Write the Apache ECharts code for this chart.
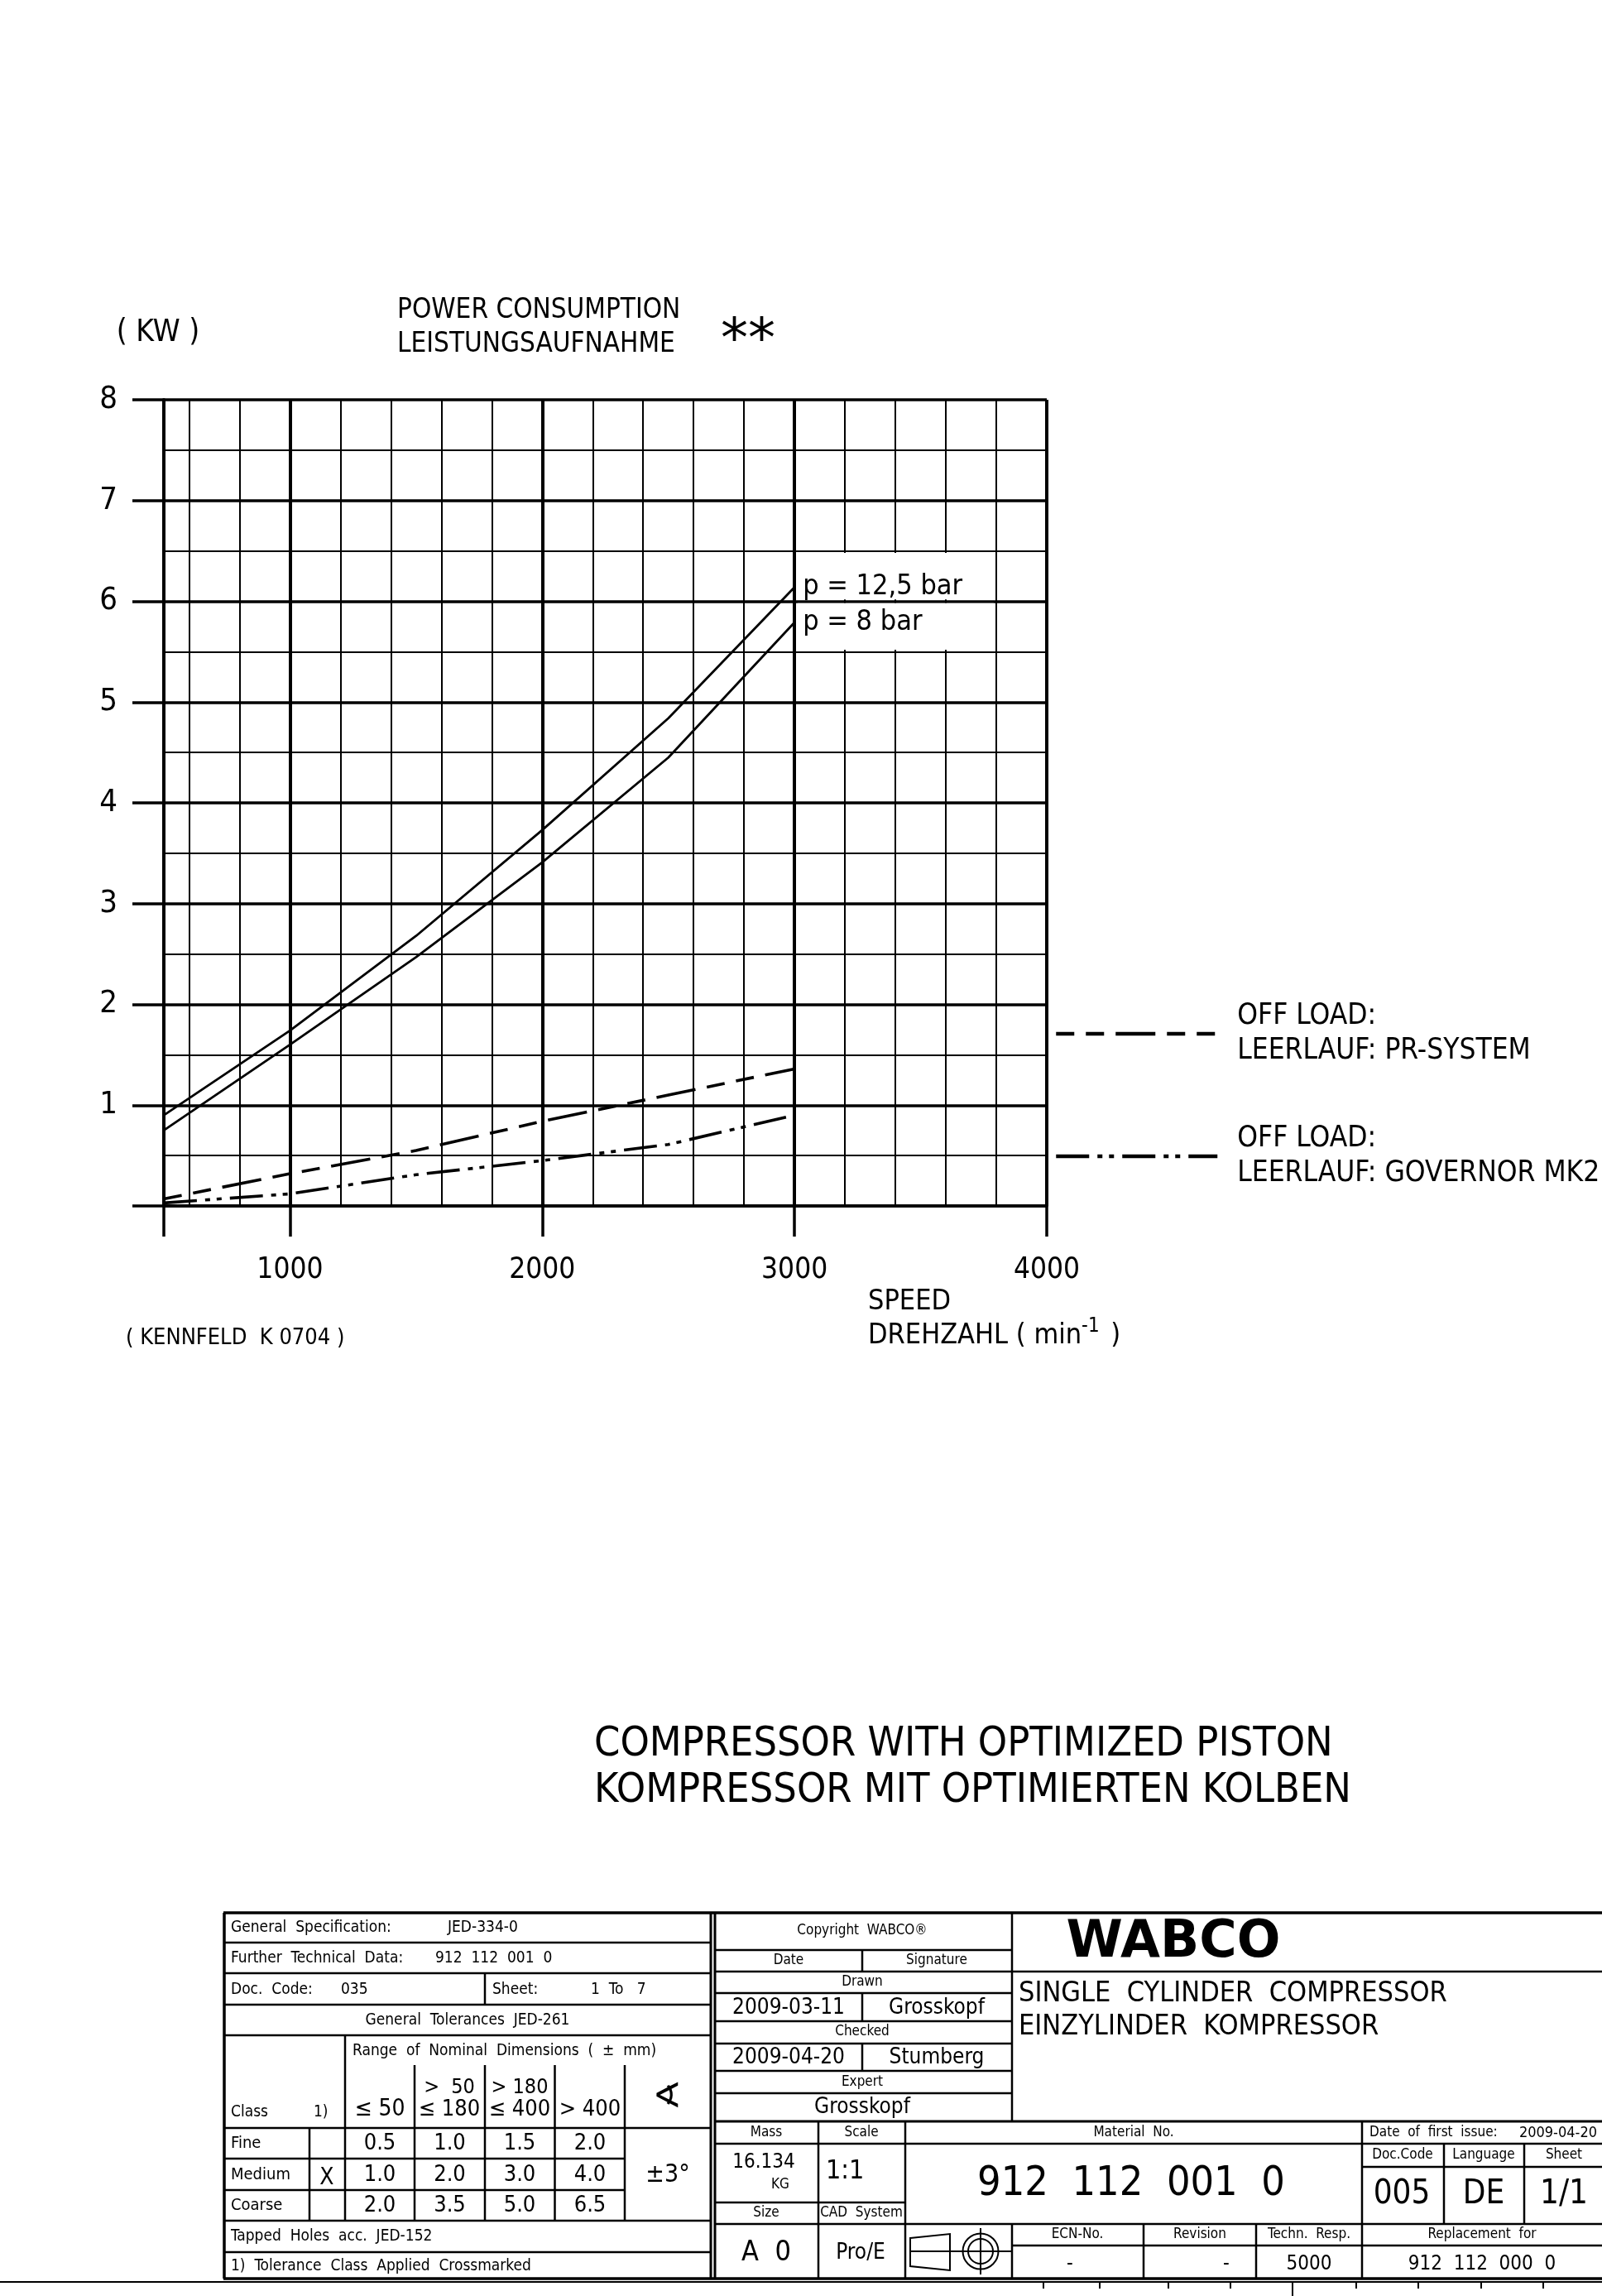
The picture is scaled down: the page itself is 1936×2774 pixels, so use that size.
<!DOCTYPE html>
<html>
<head>
<meta charset="utf-8">
<script src="https://cdn.jsdelivr.net/npm/echarts@6/dist/echarts.min.js"></script>
<style>
html,body{margin:0;padding:0;background:#fff;}
#chart{width:1936px;height:2774px;}
</style>
</head>
<body>
<div id="chart"></div>
<script>
// ---------- data ----------
const speed = [500, 1000, 1500, 2000, 2500, 3000];              // min^-1
const power125bar = [0.90, 1.74, 2.68, 3.73, 4.84, 6.14];       // kW, p = 12,5 bar
const power8bar = [0.75, 1.60, 2.47, 3.41, 4.45, 5.79];         // kW, p = 8 bar
const offLoadPR = [0.07, 0.32, 0.55, 0.84, 1.10, 1.36];         // kW, PR-system
const offLoadGovernor = [0.03, 0.12, 0.31, 0.45, 0.61, 0.90];   // kW, governor MK2
const xTickValues = [500, 1000, 2000, 3000, 4000];
const xLabelValues = [1000, 2000, 3000, 4000];
const seriesNames = ['p = 12,5 bar', 'p = 8 bar', 'OFF LOAD: PR-SYSTEM', 'OFF LOAD: GOVERNOR MK2'];
const legendTexts = ['OFF LOAD:\nLEERLAUF: PR-SYSTEM', 'OFF LOAD:\nLEERLAUF: GOVERNOR MK2'];
const labelBoxLow = [[3012, 5.52], [3790, 5.982]];
const labelBoxHigh = [[3012, 6.018], [3790, 6.48]];

const FONT = '"DejaVu Sans Condensed", "Liberation Sans Narrow", "DejaVu Sans", sans-serif';
const pairs = ys => speed.map((x, i) => [x, ys[i]]);

// ---------- decoration helpers (drawing frame / title block) ----------
const G = [];
function L(x1, y1, x2, y2, w) {
  G.push({type: 'line', silent: true, z: 10, shape: {x1, y1, x2, y2}, style: {stroke: '#000', lineWidth: w || 2}});
}
function T(text, x, y, size, align, extra) {
  G.push({type: 'text', silent: true, z: 10, x, y,
    style: Object.assign({text, fontSize: size, fontFamily: FONT, fill: '#000',
      textAlign: align || 'left', textVerticalAlign: 'middle'}, extra || {})});
}

// chart headings
T('( KW )', 191, 402, 37, 'center');
T('POWER CONSUMPTION', 480, 375, 33);
T('LEISTUNGSAUFNAHME', 480, 416, 33);
T('**', 871, 414, 66, 'left', {fontFamily: '"DejaVu Sans", sans-serif'});
T('SPEED', 1049, 1573, 34);
T('DREHZAHL ( min{s|-1} )', 1049, 1614, 34, 'left', {rich: {s: {fontSize: 24, verticalAlign: 'top', fontFamily: FONT, padding: [0, 4, 22, 0]}}});
T('( KENNFELD  K 0704 )', 152, 1617, 27);
T('COMPRESSOR WITH OPTIMIZED PISTON', 718, 2108, 50);
T('KOMPRESSOR MIT OPTIMIERTEN KOLBEN', 718, 2164, 50);

// title block frame
L(270, 2311, 1936, 2311, 3.5);
L(270, 2753, 1936, 2753, 3.5);
L(271, 2311, 271, 2753, 3.5);
L(859, 2311, 859, 2753, 3);
L(864, 2311, 864, 2753, 3);
// left block
[2347, 2384, 2422, 2459, 2571, 2683, 2721].forEach(y => L(271, y, 859, y, 2.5));
[2608, 2646].forEach(y => L(271, y, 755, y, 2.5));
L(586, 2384, 586, 2422, 2.5);
L(417, 2459, 417, 2683, 2.5);
L(374, 2571, 374, 2683, 2.5);
[501, 586, 670.5, 755].forEach(x => L(x, 2495, x, 2683, 2.5));
// middle block
[2356, 2382, 2408, 2442, 2469, 2502, 2529].forEach(y => L(864, y, 1223, y, 2.5));
[[2356, 2382], [2408, 2442], [2469, 2502]].forEach(r => L(1042, r[0], 1042, r[1], 2.5));
L(1223, 2311, 1223, 2563, 2.5);
L(1223, 2382, 1936, 2382, 2.5);
L(864, 2563, 1936, 2563, 3);
L(864, 2590, 1936, 2590, 2.5);
L(864, 2661, 1094, 2661, 2.5);
L(864, 2687, 1936, 2687, 2.5);
L(989, 2563, 989, 2753, 2.5);
L(1094, 2563, 1094, 2753, 2.5);
L(1646, 2563, 1646, 2753, 2.5);
L(1646, 2618, 1936, 2618, 2.5);
L(1745, 2590, 1745, 2687, 2.5);
L(1842, 2590, 1842, 2687, 2.5);
L(1223, 2687, 1223, 2753, 2.5);
L(1382, 2687, 1382, 2753, 2.5);
L(1518, 2687, 1518, 2753, 2.5);
L(1223, 2713, 1936, 2713, 2.5);
// sheet frame below
L(0, 2757, 1936, 2757, 2);
[1261, 1329, 1412, 1487, 1639, 1714, 1790, 1865].forEach(x => L(x, 2757, x, 2765, 2));
L(1562, 2757, 1562, 2774, 2);
// projection symbol
G.push({type: 'polygon', silent: true, z: 10, shape: {points: [[1100, 2704], [1148, 2699], [1148, 2743], [1100, 2738]]}, style: {fill: 'none', stroke: '#000', lineWidth: 2}});
L(1100, 2720, 1223, 2720, 2);
G.push({type: 'circle', silent: true, z: 10, shape: {cx: 1185, cy: 2720, r: 21.5}, style: {fill: 'none', stroke: '#000', lineWidth: 2}});
G.push({type: 'circle', silent: true, z: 10, shape: {cx: 1185, cy: 2720, r: 15}, style: {fill: 'none', stroke: '#000', lineWidth: 2}});
L(1185, 2692, 1185, 2748, 2);

// left block texts
T('General  Specification:', 279, 2329, 19);
T('JED-334-0', 541, 2329, 19);
T('Further  Technical  Data:', 279, 2366, 19);
T('912  112  001  0', 526, 2366, 19);
T('Doc.  Code:', 279, 2404, 19);
T('035', 412, 2404, 19);
T('Sheet:', 595, 2404, 19);
T('1  To   7', 714, 2404, 19);
T('General  Tolerances  JED-261', 565, 2441, 19, 'center');
T('Range  of  Nominal  Dimensions  (  ±  mm)', 426, 2478, 19);
T('Class', 279, 2552, 19);
T('1)', 379, 2552, 19);
T('≤ 50', 459, 2549, 28, 'center');
T('>  50', 543, 2522, 25, 'center');
T('≤ 180', 543, 2549, 27, 'center');
T('> 180', 628, 2522, 25, 'center');
T('≤ 400', 628, 2549, 27, 'center');
T('> 400', 713, 2549, 27, 'center');
T('∢', 806, 2535, 42, 'center', {fontFamily: '"DejaVu Sans", sans-serif'});
[['Fine', 2590], ['Medium', 2628], ['Coarse', 2665]].forEach(r => T(r[0], 279, r[1], 20));
T('X', 395, 2632, 28, 'center');
const tolCols = [459, 543.5, 628, 713];
[['0.5', '1.0', '1.5', '2.0'], ['1.0', '2.0', '3.0', '4.0'], ['2.0', '3.5', '5.0', '6.5']].forEach((row, i) => {
  row.forEach((v, j) => T(v, tolCols[j], [2590, 2628, 2665][i], 27, 'center'));
});
T('±3°', 807, 2628, 30, 'center');
T('Tapped  Holes  acc.  JED-152', 279, 2702, 19);
T('1)  Tolerance  Class  Applied  Crossmarked', 279, 2738, 19);

// middle block texts
T('Copyright  WABCO®', 1042, 2333, 17, 'center');
T('Date', 953, 2369, 17, 'center');
T('Signature', 1132, 2369, 17, 'center');
T('Drawn', 1042, 2395, 17, 'center');
T('2009-03-11', 953, 2426, 26, 'center');
T('Grosskopf', 1132, 2426, 26, 'center');
T('Checked', 1042, 2455, 17, 'center');
T('2009-04-20', 953, 2486, 26, 'center');
T('Stumberg', 1132, 2486, 26, 'center');
T('Expert', 1042, 2516, 17, 'center');
T('Grosskopf', 1042, 2546, 26, 'center');
T('Mass', 926, 2577, 17, 'center');
T('Scale', 1041, 2577, 17, 'center');
T('16.134', 923, 2613, 24, 'center');
T('KG', 943, 2640, 17, 'center');
T('1:1', 998, 2624, 32, 'left');
T('Size', 926, 2674, 17, 'center');
T('CAD  System', 1041, 2674, 17, 'center');
T('A  0', 926, 2722, 34, 'center');
T('Pro/E', 1040, 2722, 26, 'center');

// right block texts
T('WABCO', 1418, 2348, 62, 'center', {fontFamily: '"DejaVu Sans", sans-serif', fontWeight: 'bold'});
T('SINGLE  CYLINDER  COMPRESSOR', 1231, 2409, 34);
T('EINZYLINDER  KOMPRESSOR', 1231, 2449, 34);
T('Material  No.', 1370, 2577, 17, 'center');
T('912  112  001  0', 1367, 2639, 50, 'center');
T('Date  of  first  issue:', 1655, 2577, 17);
T('2009-04-20', 1930, 2577, 18, 'right');
T('Doc.Code', 1695, 2604, 17, 'center');
T('Language', 1793, 2604, 17, 'center');
T('Sheet', 1890, 2604, 17, 'center');
T('005', 1694, 2652, 40, 'center');
T('DE', 1793, 2652, 40, 'center');
T('1/1', 1890, 2652, 40, 'center');
T('ECN-No.', 1302, 2700, 17, 'center');
T('Revision', 1450, 2700, 17, 'center');
T('Techn.  Resp.', 1582, 2700, 17, 'center');
T('Replacement  for', 1791, 2700, 17, 'center');
T('-', 1293, 2736, 24, 'center');
T('-', 1482, 2736, 24, 'center');
T('5000', 1582, 2736, 24, 'center');
T('912  112  000  0', 1791, 2736, 24, 'center');

// ---------- chart ----------
const chart = echarts.init(document.getElementById('chart'));
const labelStyle = {show: true, color: '#000', fontSize: 34, fontFamily: FONT, distance: 10};
chart.setOption({
  animation: false,
  backgroundColor: '#fff',
  grid: {left: 198, top: 483, width: 1067, height: 974},
  legend: {
    show: true, data: [seriesNames[2], seriesNames[3]], orient: 'vertical',
    left: 1269, top: 1202, itemWidth: 195, itemHeight: 20, itemGap: 64, selectedMode: false,
    itemStyle: {color: 'rgba(0,0,0,0)', borderColor: 'rgba(0,0,0,0)', borderWidth: 0, opacity: 0},
    lineStyle: {width: 4.5, color: '#000'},
    formatter: name => legendTexts[seriesNames.indexOf(name) - 2],
    textStyle: {fontSize: 35, lineHeight: 42, color: '#000', fontFamily: FONT, padding: [0, 0, 0, 19]}
  },
  xAxis: [
    {type: 'value', min: 500, max: 4000, interval: 500,
      axisLine: {show: true, lineStyle: {color: '#000', width: 3.5}},
      axisTick: {show: true, customValues: xTickValues, length: 37, lineStyle: {color: '#000', width: 3.5}},
      axisLabel: {show: true, customValues: xLabelValues, margin: 60, fontSize: 35, color: '#000', fontFamily: FONT,
        formatter: v => String(v)},
      splitLine: {show: false}},
    {type: 'value', min: 500, max: 4000, interval: 100,
      axisLine: {show: false}, axisTick: {show: false}, axisLabel: {show: false},
      splitLine: {show: true, showMinLine: true, lineStyle: {color: ['rgba(0,0,0,0)', '#000'], width: 2}}},
    {type: 'value', min: 500, max: 4000, interval: 500,
      axisLine: {show: false}, axisTick: {show: false}, axisLabel: {show: false},
      splitLine: {show: true, showMinLine: true, lineStyle: {color: ['rgba(0,0,0,0)', '#000'], width: 4}}}
  ],
  yAxis: {type: 'value', min: 0, max: 8, interval: 1,
    axisLine: {show: true, lineStyle: {color: '#000', width: 4}},
    axisTick: {show: true, length: 38, lineStyle: {color: '#000', width: 3.5}},
    axisLabel: {margin: 56, fontSize: 38, color: '#000', fontFamily: FONT, formatter: v => v === 0 ? '' : String(v)},
    splitLine: {show: true, lineStyle: {color: '#000', width: 3.5}},
    minorTick: {show: false, splitNumber: 2},
    minorSplitLine: {show: true, lineStyle: {color: '#000', width: 1.8}}},
  series: [
    {name: seriesNames[0], type: 'line', data: pairs(power125bar), symbol: 'none', z: 5,
      lineStyle: {color: '#000', width: 2.8},
      endLabel: Object.assign({formatter: 'p = 12,5 bar'}, labelStyle),
      markArea: {silent: true, itemStyle: {color: '#fff', opacity: 1}, label: {show: false},
        data: [[{coord: labelBoxLow[0]}, {coord: labelBoxLow[1]}], [{coord: labelBoxHigh[0]}, {coord: labelBoxHigh[1]}]]}},
    {name: seriesNames[1], type: 'line', data: pairs(power8bar), symbol: 'none', z: 5,
      lineStyle: {color: '#000', width: 2.8},
      endLabel: Object.assign({formatter: 'p = 8 bar'}, labelStyle)},
    {name: seriesNames[2], type: 'line', data: pairs(offLoadPR), symbol: 'none', z: 5,
      itemStyle: {color: '#000'},
      lineStyle: {color: '#000', width: 3.6, type: [22, 14, 22, 14, 48, 14]}},
    {name: seriesNames[3], type: 'line', data: pairs(offLoadGovernor), symbol: 'none', z: 5,
      itemStyle: {color: '#000'},
      lineStyle: {color: '#000', width: 3.6, type: [40, 10, 6, 8, 6, 10]}}
  ],
  graphic: G
});
</script>
</body>
</html>
